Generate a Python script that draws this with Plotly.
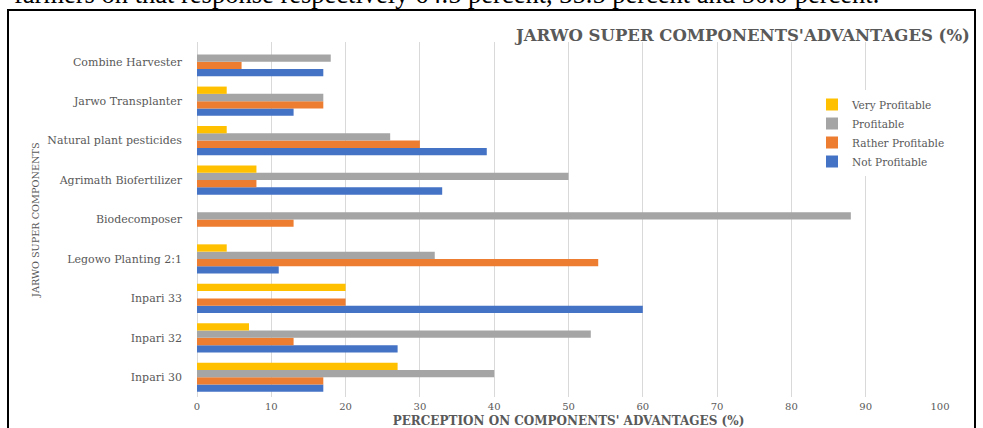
import plotly.graph_objects as go

categories = ["Inpari 30", "Inpari 32", "Inpari 33", "Legowo Planting 2:1", "Biodecomposer",
              "Agrimath Biofertilizer", "Natural plant pesticides", "Jarwo Transplanter", "Combine Harvester"]
not_profitable = [17, 27, 60, 11, 0, 33, 39, 13, 17]
rather_profitable = [17, 13, 20, 54, 13, 8, 30, 17, 6]
profitable = [40, 53, 0, 32, 88, 50, 26, 17, 18]
very_profitable = [27, 7, 20, 4, 0, 8, 4, 4, 0]

series_names = ["Not Profitable", "Rather Profitable", "Profitable", "Very Profitable"]
series_values = [not_profitable, rather_profitable, profitable, very_profitable]
series_colors = ["#4472C4", "#ED7D31", "#A5A5A5", "#FFC000"]

x_ticks = [0, 10, 20, 30, 40, 50, 60, 70, 80, 90, 100]

chart_title = "JARWO SUPER COMPONENTS'ADVANTAGES (%)"
x_title = "PERCEPTION ON COMPONENTS' ADVANTAGES (%)"
y_title = "JARWO SUPER COMPONENTS"
page_text = "farmers on that response respectively 64.5 percent, 35.5 percent and 50.0 percent."

W, H = 983, 428
L, R, T, B = 197, 940, 42, 397
SERIF = "DejaVu Serif"
PAGE_SERIF = "Liberation Serif"
GRAY_TXT = "#595959"


def px(xp):
    return (xp - L) / (R - L)


def py(yp):
    return (B - yp) / (B - T)


fig = go.Figure()
for name, vals, col in zip(series_names, series_values, series_colors):
    fig.add_trace(go.Bar(y=categories, x=vals, name=name, orientation="h",
                         marker=dict(color=col, line=dict(width=0))))

fig.update_layout(
    width=W, height=H, autosize=False,
    margin=dict(l=L, r=W - R, t=T, b=H - B, pad=0, autoexpand=False),
    paper_bgcolor="white", plot_bgcolor="white",
    barmode="group", bargap=0.26, bargroupgap=0,
    font=dict(family=SERIF, color=GRAY_TXT, size=10),
    showlegend=True,
    legend=dict(traceorder="reversed", x=px(812), y=py(90), xanchor="left", yanchor="top",
                bgcolor="white", font=dict(size=10.5, color=GRAY_TXT, family=SERIF),
                itemwidth=30, tracegroupgap=0),
    xaxis=dict(range=[0, 100], tickvals=x_ticks, showgrid=True, gridcolor="#D9D9D9", gridwidth=1,
               zeroline=True, zerolinecolor="#D9D9D9", zerolinewidth=1, showline=False,
               tickfont=dict(size=10, color=GRAY_TXT, family=SERIF), ticks="",
               ticklabelstandoff=2, automargin=False,
               title=dict(text="<b>" + x_title + "</b>", standoff=14,
                          font=dict(size=12, color=GRAY_TXT, family=SERIF)),
               fixedrange=True),
    yaxis=dict(categoryorder="array", categoryarray=categories, showgrid=False, showline=False,
               zeroline=False, ticks="", ticklabelstandoff=14, automargin=False,
               tickfont=dict(size=11, color=GRAY_TXT, family=SERIF), fixedrange=True),
)

fig.add_annotation(text="<b>" + chart_title + "</b>", xref="paper", yref="paper",
                   x=px(972), y=py(35), xanchor="right", yanchor="middle", showarrow=False,
                   font=dict(size=16.5, color=GRAY_TXT, family=SERIF))
fig.add_annotation(text=y_title, xref="paper", yref="paper", x=px(35), y=py(220),
                   xanchor="center", yanchor="middle", textangle=-90, showarrow=False,
                   font=dict(size=9.7, color=GRAY_TXT, family=SERIF))
fig.add_annotation(text=page_text, xref="paper", yref="paper", x=px(12), y=py(-6),
                   xanchor="left", yanchor="middle", showarrow=False,
                   font=dict(size=26.5, color="black", family=PAGE_SERIF))
fig.add_shape(type="rect", xref="paper", yref="paper", x0=px(8), x1=px(975), y0=py(445), y1=py(10),
              line=dict(color="black", width=2), fillcolor="rgba(0,0,0,0)", layer="above")

fig.write_html("out.html", config={"displayModeBar": False},
               post_script="document.body.style.margin='0px';")
